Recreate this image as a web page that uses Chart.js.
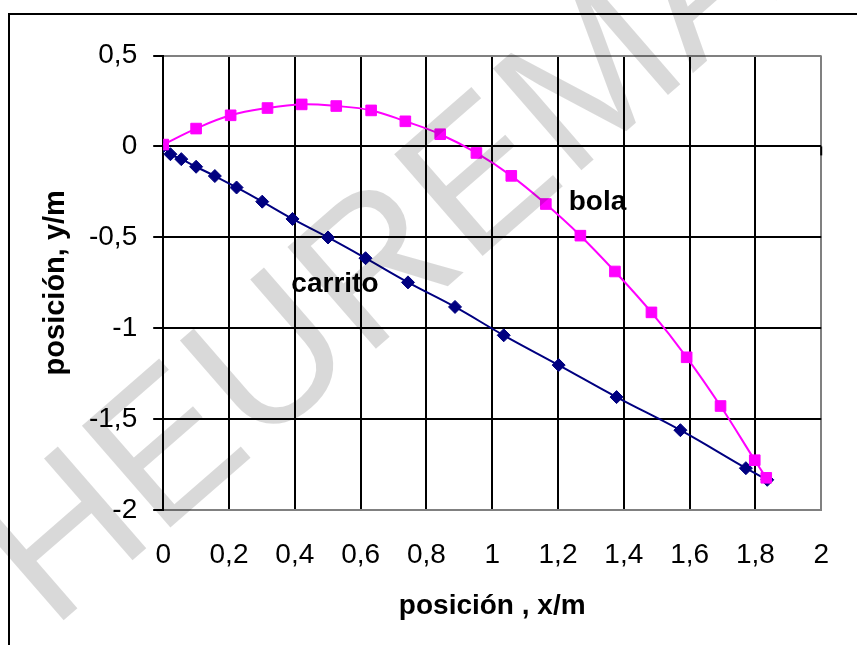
<!DOCTYPE html>
<html>
<head>
<meta charset="utf-8">
<script src="https://cdn.jsdelivr.net/npm/chart.js@4.4.0/dist/chart.umd.min.js"></script>
<style>
  html, body { margin: 0; padding: 0; background: #ffffff; }
  #c { display: block; }
</style>
</head>
<body>
<canvas id="c" width="857" height="645"></canvas>
<script>
// Trayectorias medidas: posición x (m) y posición y (m)
const bolaX = [0, 0.100, 0.205, 0.317, 0.421, 0.526, 0.632, 0.736, 0.842, 0.952, 1.058, 1.163, 1.268, 1.373, 1.484, 1.591, 1.694, 1.798, 1.833];
const bolaY = [0.010, 0.098, 0.171, 0.211, 0.231, 0.222, 0.198, 0.138, 0.067, -0.036, -0.162, -0.317, -0.491, -0.688, -0.913, -1.160, -1.428, -1.726, -1.823];

const carritoX = [0, 0.022, 0.055, 0.100, 0.157, 0.223, 0.301, 0.393, 0.501, 0.615, 0.744, 0.887, 1.035, 1.202, 1.378, 1.572, 1.771, 1.836];
const carritoY = [0, -0.043, -0.070, -0.112, -0.163, -0.226, -0.304, -0.399, -0.501, -0.615, -0.748, -0.883, -1.039, -1.203, -1.379, -1.561, -1.770, -1.834];

const xTickValues = [0, 0.2, 0.4, 0.6, 0.8, 1, 1.2, 1.4, 1.6, 1.8, 2];
const yTickValues = [0.5, 0, -0.5, -1, -1.5, -2];

const seriesNames = ['bola', 'carrito'];
// posición de las etiquetas de cada curva, en unidades de los ejes
const labelAnchorX = [1.32, 0.522];
const labelAnchorY = [-0.35, -0.80];

const xTitle = 'posición , x/m';
const yTitle = 'posición, y/m';
const watermark = 'HEUREMA';

const FONT = '"Liberation Sans", Arial, Helvetica, sans-serif';
const GRID = '#000000';
const EDGE = '#808080';

function toPoints(xs, ys) {
  return xs.map((x, i) => ({ x: x, y: ys[i] }));
}
function comma(v) {
  const r = Math.round(v * 10) / 10;
  return String(r).replace('.', ',');
}

// marco exterior, etiquetas de las curvas y marca de agua
const decor = {
  id: 'decor',
  beforeDraw(chart) {
    const ctx = chart.ctx;
    ctx.save();
    ctx.fillStyle = '#ffffff';
    ctx.fillRect(0, 0, chart.width, chart.height);
    ctx.strokeStyle = '#000000';
    ctx.lineWidth = 2;
    ctx.strokeRect(9, 14, chart.width + 20, chart.height + 20);
    ctx.restore();
  },
  beforeDatasetsDraw(chart) {
    const ctx = chart.ctx;
    const sx = chart.scales.x, sy = chart.scales.y;
    ctx.save();
    // marca del eje horizontal en x = 2, sobre y = 0
    ctx.strokeStyle = '#000000';
    ctx.lineWidth = 2;
    const px = sx.getPixelForValue(2), py = sy.getPixelForValue(0);
    ctx.beginPath();
    ctx.moveTo(px, py);
    ctx.lineTo(px, py + 9);
    ctx.stroke();
    ctx.fillStyle = '#000000';
    ctx.font = 'bold 28px ' + FONT;
    ctx.textAlign = 'center';
    ctx.textBaseline = 'alphabetic';
    seriesNames.forEach((name, i) => {
      ctx.fillText(name, sx.getPixelForValue(labelAnchorX[i]), sy.getPixelForValue(labelAnchorY[i]));
    });
    ctx.restore();
  },
  afterDraw(chart) {
    const ctx = chart.ctx;
    ctx.save();
    ctx.fillStyle = 'rgba(0,0,0,0.15)';
    ctx.font = '196px ' + FONT;
    ctx.translate(16, 590);
    ctx.rotate(-41 * Math.PI / 180);
    ctx.textBaseline = 'middle';
    ctx.textAlign = 'left';
    ctx.fillText(watermark, 0, 0);
    ctx.restore();
  }
};

new Chart(document.getElementById('c'), {
  type: 'scatter',
  data: {
    datasets: [
      {
        label: seriesNames[0],
        data: toPoints(bolaX, bolaY),
        showLine: true,
        borderColor: '#FF00FF',
        backgroundColor: '#FF00FF',
        borderWidth: 2,
        pointStyle: 'rect',
        pointRadius: 7.5,
        pointBorderWidth: 1,
        tension: 0.4
      },
      {
        label: seriesNames[1],
        data: toPoints(carritoX, carritoY),
        showLine: true,
        borderColor: '#000080',
        backgroundColor: '#000080',
        borderWidth: 2,
        pointStyle: 'rectRot',
        pointRadius: 6.5,
        pointBorderWidth: 1,
        tension: 0.4
      }
    ]
  },
  options: {
    responsive: false,
    animation: false,
    devicePixelRatio: 1,
    layout: { padding: { left: 0, top: 55.5, right: 28, bottom: 0 } },
    plugins: { legend: { display: false }, tooltip: { enabled: false } },
    scales: {
      x: {
        type: 'linear',
        position: 'bottom',
        min: 0,
        max: 2,
        afterBuildTicks: s => { s.ticks = xTickValues.map(v => ({ value: v })); },
        afterFit: s => { s.height = 135; },
        grid: {
          color: c => (c.tick && c.tick.value === 2 ? EDGE : GRID),
          lineWidth: 2,
          drawTicks: false
        },
        border: { display: true, color: EDGE, width: 2 },
        ticks: {
          padding: 28,
          color: '#000000',
          font: { family: FONT, size: 28 },
          maxRotation: 0,
          autoSkip: false,
          callback: v => comma(v)
        },
        title: {
          display: true,
          text: xTitle,
          color: '#000000',
          font: { family: FONT, size: 28, weight: 'bold' },
          padding: { top: 0, bottom: 22 }
        }
      },
      y: {
        type: 'linear',
        min: -2,
        max: 0.5,
        afterBuildTicks: s => { s.ticks = yTickValues.map(v => ({ value: v })); },
        afterFit: s => { s.width = 163.2; },
        grid: {
          color: c => (c.tick && (c.tick.value === 0.5 || c.tick.value === -2) ? EDGE : GRID),
          lineWidth: 2,
          drawTicks: true,
          tickLength: 10,
          tickColor: '#000000'
        },
        border: { display: true, color: '#000000', width: 2 },
        ticks: {
          padding: 16,
          color: '#000000',
          font: { family: FONT, size: 28 },
          autoSkip: false,
          callback: v => comma(v)
        },
        title: {
          display: true,
          text: yTitle,
          color: '#000000',
          font: { family: FONT, size: 29, weight: 'bold' },
          padding: { top: 39, bottom: 0 }
        }
      }
    }
  },
  plugins: [decor]
});
</script>
</body>
</html>
